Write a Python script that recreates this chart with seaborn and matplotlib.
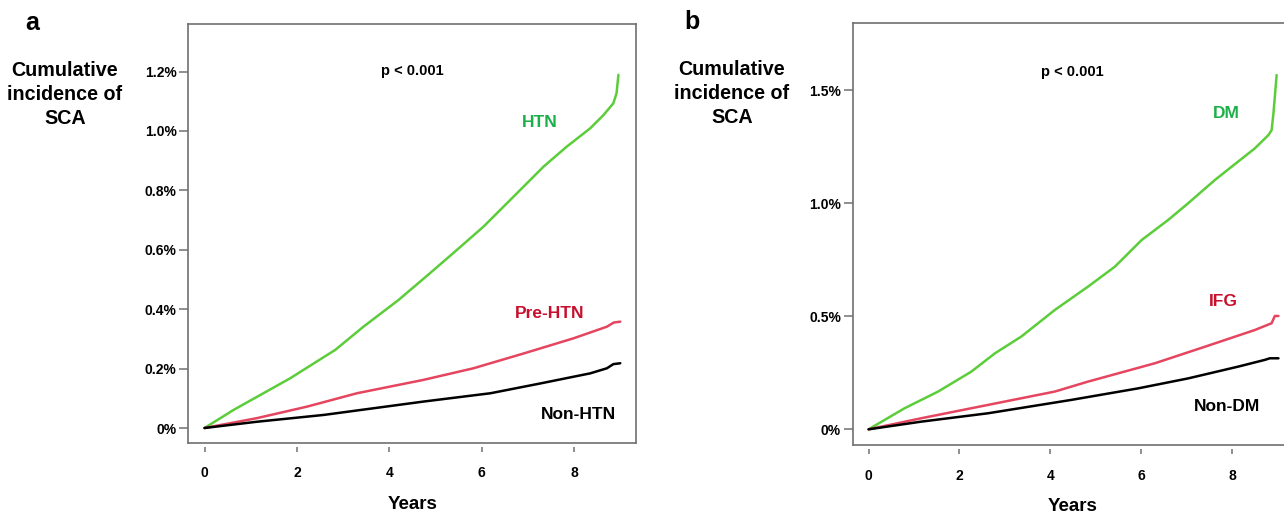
import pandas as pd
import matplotlib
matplotlib.use("Agg")
import matplotlib.pyplot as plt
import seaborn as sns

# cumulative incidence (%), panel a
htn_t = [0, 0.63, 1.85, 2.83, 3.44, 4.20, 4.88, 5.46, 6.04, 6.62, 7.34, 7.84,
         8.35, 8.64, 8.85, 8.92, 8.96]
htn = [0, 0.061, 0.167, 0.263, 0.341, 0.431, 0.521, 0.599, 0.678, 0.768, 0.880,
       0.947, 1.009, 1.054, 1.093, 1.127, 1.189]
pre_htn_t = [0, 1.13, 2.22, 3.30, 4.74, 5.82, 6.91, 7.99, 8.71, 8.86, 9.0]
pre_htn = [0, 0.033, 0.072, 0.117, 0.162, 0.201, 0.251, 0.302, 0.341, 0.355, 0.358]
non_htn_t = [0, 1.13, 2.58, 4.74, 6.19, 7.27, 8.35, 8.71, 8.85, 9.0]
non_htn = [0, 0.021, 0.044, 0.089, 0.117, 0.150, 0.184, 0.201, 0.215, 0.218]

# panel b
dm_t = [0, 0.79, 1.53, 2.26, 2.78, 3.36, 4.10, 4.83, 5.42, 6.01, 6.59, 7.03,
        7.62, 7.99, 8.50, 8.80, 8.87, 8.91, 8.98]
dm = [0, 0.093, 0.167, 0.255, 0.336, 0.410, 0.528, 0.631, 0.719, 0.837, 0.925,
      0.999, 1.102, 1.161, 1.242, 1.301, 1.323, 1.397, 1.566]
ifg_t = [0, 1.16, 2.63, 4.10, 4.83, 6.30, 7.40, 8.50, 8.87, 8.94, 9.02]
ifg = [0, 0.049, 0.108, 0.167, 0.211, 0.292, 0.365, 0.439, 0.469, 0.501, 0.501]
non_dm_t = [0, 1.16, 2.63, 4.46, 5.93, 7.03, 8.13, 8.72, 8.83, 9.02]
non_dm = [0, 0.034, 0.071, 0.130, 0.181, 0.225, 0.277, 0.307, 0.314, 0.314]

yticks_a = [0, 0.2, 0.4, 0.6, 0.8, 1.0, 1.2]
yticks_b = [0, 0.5, 1.0, 1.5]
xticks = [0, 2, 4, 6, 8]

GREEN_LINE = "#5ccd3a"
RED_LINE = "#e5455f"
GREEN_TXT = "#1daf4a"
RED_TXT = "#c8102e"
SPINE = "#707070"

sns.set_style("white")
plt.rcParams["font.family"] = ["Liberation Sans", "DejaVu Sans"]
plt.rcParams["font.weight"] = "bold"
plt.rcParams["text.color"] = "black"
plt.rcParams["axes.labelcolor"] = "black"
plt.rcParams["xtick.labelcolor"] = "black"
plt.rcParams["ytick.labelcolor"] = "black"


def make_df(groups):
    rows = []
    for name, (ts, vals) in groups.items():
        for t, v in zip(ts, vals):
            rows.append({"Years": t, "pct": v, "group": name})
    return pd.DataFrame(rows)


def pct_label(v):
    return "0%" if v == 0 else f"{v:.1f}%"


def style_axis(ax, ylim, yticks):
    ax.set_xlim(-0.35, 9.34)
    ax.set_ylim(*ylim)
    ax.set_xticks(xticks)
    ax.set_xticklabels([str(t) for t in xticks])
    ax.set_yticks(yticks)
    ax.set_yticklabels([pct_label(v) for v in yticks])
    for s in ax.spines.values():
        s.set_color(SPINE)
        s.set_linewidth(1.2)
    # R-style: x ticks sit a bit below the box
    ax.spines["bottom"].set_position(("outward", 3))
    ax.spines["bottom"].set_visible(False)
    ax.plot([0, 1], [0, 0], transform=ax.transAxes, color=SPINE,
            lw=1.2, clip_on=False)
    ax.tick_params(axis="both", which="both", direction="out", width=1.1,
                   color=SPINE, labelsize=10, left=True, bottom=True)
    ax.tick_params(axis="y", length=6.5, pad=2)
    ax.tick_params(axis="x", length=3.5, pad=10.5)
    for lab in ax.get_xticklabels() + ax.get_yticklabels():
        lab.set_fontweight("bold")
    ax.set_xlabel("Years", fontsize=13.5, fontweight="bold", labelpad=11)
    ax.set_ylabel("")
    ax.grid(False)


fig = plt.figure(figsize=(12.84, 5.14), dpi=100)
ax_a = fig.add_axes([0.1467, 0.1387, 0.4953 - 0.1467, 0.9533 - 0.1387])
ax_b = fig.add_axes([0.6641, 0.1342, 1.007 - 0.6641, 0.9547 - 0.1342])

df_a = make_df({"HTN": (htn_t, htn), "Pre-HTN": (pre_htn_t, pre_htn),
                "Non-HTN": (non_htn_t, non_htn)})
sns.lineplot(data=df_a, x="Years", y="pct", hue="group", ax=ax_a,
             palette={"HTN": GREEN_LINE, "Pre-HTN": RED_LINE, "Non-HTN": "black"},
             linewidth=1.8, legend=False, sort=False)
style_axis(ax_a, (-0.0495, 1.36), yticks_a)

df_b = make_df({"DM": (dm_t, dm), "IFG": (ifg_t, ifg),
                "Non-DM": (non_dm_t, non_dm)})
sns.lineplot(data=df_b, x="Years", y="pct", hue="group", ax=ax_b,
             palette={"DM": GREEN_LINE, "IFG": RED_LINE, "Non-DM": "black"},
             linewidth=1.8, legend=False, sort=False)
style_axis(ax_b, (-0.0694, 1.795), yticks_b)

# in-plot annotations
txt = dict(ha="center", va="center", fontweight="bold")
ax_a.text(4.49, 1.202, "p < 0.001", fontsize=10.5, color="black", **txt)
ax_a.text(7.26, 1.028, "HTN", fontsize=12.5, color=GREEN_TXT, **txt)
ax_a.text(7.48, 0.387, "Pre-HTN", fontsize=12.5, color=RED_TXT, **txt)
ax_a.text(8.09, 0.047, "Non-HTN", fontsize=12.5, color="black", **txt)

ax_b.text(4.49, 1.581, "p < 0.001", fontsize=10.5, color="black", **txt)
ax_b.text(7.88, 1.394, "DM", fontsize=12.5, color=GREEN_TXT, **txt)
ax_b.text(7.80, 0.567, "IFG", fontsize=12.5, color=RED_TXT, **txt)
ax_b.text(7.88, 0.100, "Non-DM", fontsize=12.5, color="black", **txt)

# panel letters and y titles
fig.text(31.7 / 1284, 1 - 23 / 514, "a", fontsize=18, fontweight="bold",
         ha="center", va="center")
fig.text(691.7 / 1284, 1 - 22 / 514, "b", fontsize=18, fontweight="bold",
         ha="center", va="center")
ytitle = "Cumulative\nincidence of\nSCA"
fig.text(65 / 1284, 1 - 94.5 / 514, ytitle, fontsize=14.2, fontweight="bold",
         ha="center", va="center", multialignment="center", linespacing=1.35)
fig.text(732 / 1284, 1 - 93.5 / 514, ytitle, fontsize=14.2, fontweight="bold",
         ha="center", va="center", multialignment="center", linespacing=1.35)

fig.savefig("out.png", dpi=100)
